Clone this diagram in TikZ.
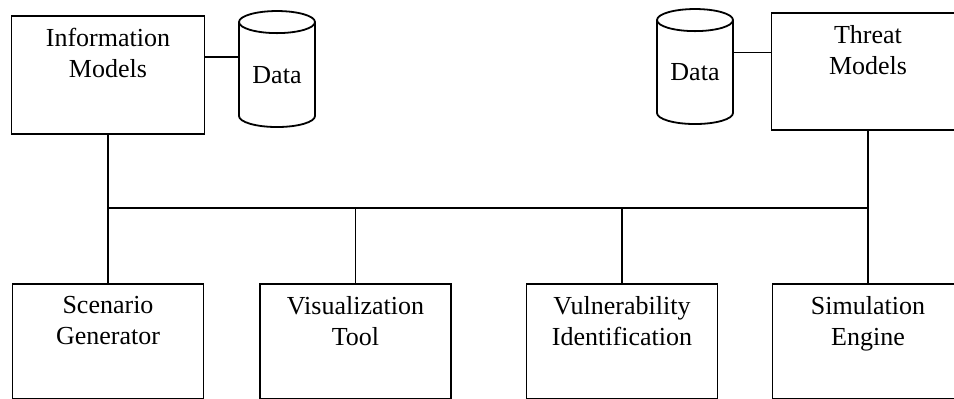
\documentclass[tikz,border=0pt]{standalone}
\usepackage{fontspec}
\setmainfont{Liberation Serif}
\usetikzlibrary{shapes.geometric,positioning}

\begin{document}
\begin{tikzpicture}[x=1pt,y=1pt]
  \tikzset{box/.style = {shape=rectangle,draw,line width=1.8pt,minimum width=193pt,minimum height=118pt,inner sep=0pt}}
  \tikzset{lowbox/.style = {box,minimum width=191pt,minimum height=114.5pt}}
  \tikzset{boxlabel/.style = {anchor=north,align=center,inner sep=0pt,yshift=-13pt,font=\fontsize{26}{31}\selectfont}}
  \tikzset{store/.style = {shape=cylinder,shape border rotate=90,draw,line width=1.8pt,minimum width=76pt,minimum height=116pt,aspect=0.45,inner sep=0pt,font=\fontsize{26}{31}\selectfont}}
  \tikzset{link/.style = {line width=1.8pt}}

  \useasboundingbox (0,0) rectangle (954,399);

	\node[box,label={[boxlabel]north:Information\\Models}] (info) at (108,324) {};
	\node[store] (infodata) at (277,324) {\raisebox{-4pt}{Data}};

	\node[box,minimum height=117pt,label={[boxlabel]north:Threat\\Models}] (threat) at (868,327.5) {};
	\node[store,minimum height=115pt] (threatdata) at (695,326.5) {\raisebox{-4pt}{Data}};

	\node[lowbox,label={[boxlabel]north:Scenario\\Generator}] (scen) at (108,57.75) {};
	\node[lowbox,label={[boxlabel]north:Visualization\\Tool}] (vis) at (355.5,57.75) {};
	\node[lowbox,label={[boxlabel]north:Vulnerability\\Identification}] (vuln) at (622,57.75) {};
	\node[lowbox,label={[boxlabel]north:Simulation\\Engine}] (sim) at (868,57.75) {};

	\coordinate (bus) at (0,191);

	% data stores
	\draw[link] ([yshift=18pt]info.east) -- ([yshift=18pt]info.east -| infodata.west);
	\draw[link] ([yshift=19pt]threat.west) -- ([yshift=19pt]threat.west -| threatdata.east);

	% bus
	\draw[link] (info.south) -- (scen.north);
	\draw[link] (threat.south) -- (sim.north);
	\draw[link] (info.south |- bus) -- (threat.south |- bus);
    \foreach \to in {vis, vuln}
    \draw[link] (\to.north |- bus) -- (\to.north);

\end{tikzpicture}
\end{document}
